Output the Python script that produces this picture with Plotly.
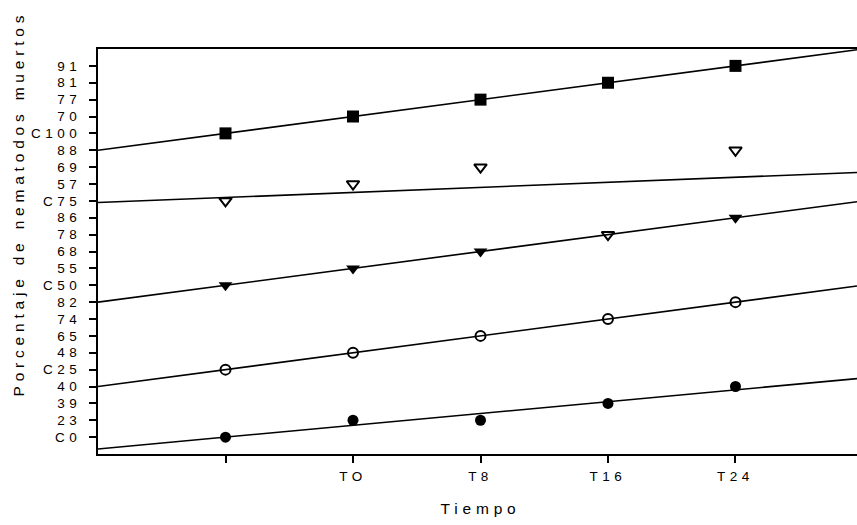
import numpy as np
import plotly.graph_objects as go

# ---- data ----
y_labels = ["C0", "23", "39", "40", "C25", "48", "65", "74", "82", "C50",
            "55", "68", "78", "86", "C75", "57", "69", "88", "C100", "70",
            "77", "81", "91"]
x_labels = ["", "TO", "T8", "T16", "T24"]
x_pos = [1, 2, 3, 4, 5]

s_c0 = ["C0", "23", "23", "39", "40"]
s_c25 = ["C25", "48", "65", "74", "82"]
s_c50 = ["C50", "55", "68", None, "86"]
s_c75 = ["C75", "57", "69", "78", "88"]
s_c100 = ["C100", "70", "77", "81", "91"]

series = [
    (s_c0, dict(symbol="circle", size=11, color="black")),
    (s_c25, dict(symbol="circle-open", size=10, color="black", line=dict(width=2, color="black"))),
    (s_c50, dict(symbol="triangle-down", size=12, color="black")),
    (s_c75, dict(symbol="triangle-down-open", size=11, color="black", line=dict(width=2, color="black"))),
    (s_c100, dict(symbol="square", size=12, color="black")),
]

x_range = [0, 5.953]
y_range = [-1, 23]

fig = go.Figure()
for vals, mk in series:
    xs = [x for x, v in zip(x_pos, vals) if v is not None]
    ys = [y_labels.index(v) for v in vals if v is not None]
    slope, icpt = np.polyfit(xs, ys, 1)
    fig.add_trace(go.Scatter(x=x_range, y=[icpt + slope * x for x in x_range],
                             mode="lines", line=dict(color="black", width=1.6),
                             hoverinfo="skip", showlegend=False))
    fig.add_trace(go.Scatter(x=xs, y=ys, mode="markers", marker=mk, showlegend=False))

tickfont = dict(family="Liberation Sans, Arial, sans-serif", size=13.5, color="black")
fig.update_layout(
    width=857, height=525,
    margin=dict(l=98, r=0, t=49, b=71),
    paper_bgcolor="white", plot_bgcolor="white",
    showlegend=False,
    xaxis=dict(range=x_range, tickvals=x_pos, ticktext=x_labels,
               showgrid=False, zeroline=False, showline=True, linecolor="black",
               linewidth=2, mirror=True, ticks="outside", ticklen=7, tickwidth=1.5,
               tickcolor="black", tickfont=tickfont, ticklabelstandoff=2),
    yaxis=dict(range=y_range, tickvals=list(range(len(y_labels))), ticktext=y_labels,
               showgrid=False, zeroline=False, showline=True, linecolor="black",
               linewidth=2, ticks="outside", ticklen=7, tickwidth=1.5,
               tickcolor="black", tickfont=tickfont, ticklabelstandoff=5),
    annotations=[
        dict(text="Tiempo", xref="paper", yref="paper", x=0.5046, y=-0.1358,
             xanchor="center", yanchor="middle", showarrow=False,
             font=dict(family="Liberation Sans, Arial, sans-serif", size=15.5, color="black")),
        dict(text="Porcentaje de nematodos muertos", xref="paper", yref="paper",
             x=-0.1054, y=0.617, textangle=-90, xanchor="center", yanchor="middle",
             showarrow=False,
             font=dict(family="Liberation Sans, Arial, sans-serif", size=15.5, color="black")),
    ],
)

post = """
document.body.style.margin = '0';
document.body.style.overflow = 'hidden';
var gd = document.getElementById('{plot_id}');
gd.querySelectorAll('.xtick text, .ytick text').forEach(function(t){t.style.letterSpacing='4.5px';});
gd.querySelectorAll('.annotation-text').forEach(function(t){t.style.letterSpacing='4.8px';});
"""
fig.write_html("out.html", post_script=post, config={"displayModeBar": False})
